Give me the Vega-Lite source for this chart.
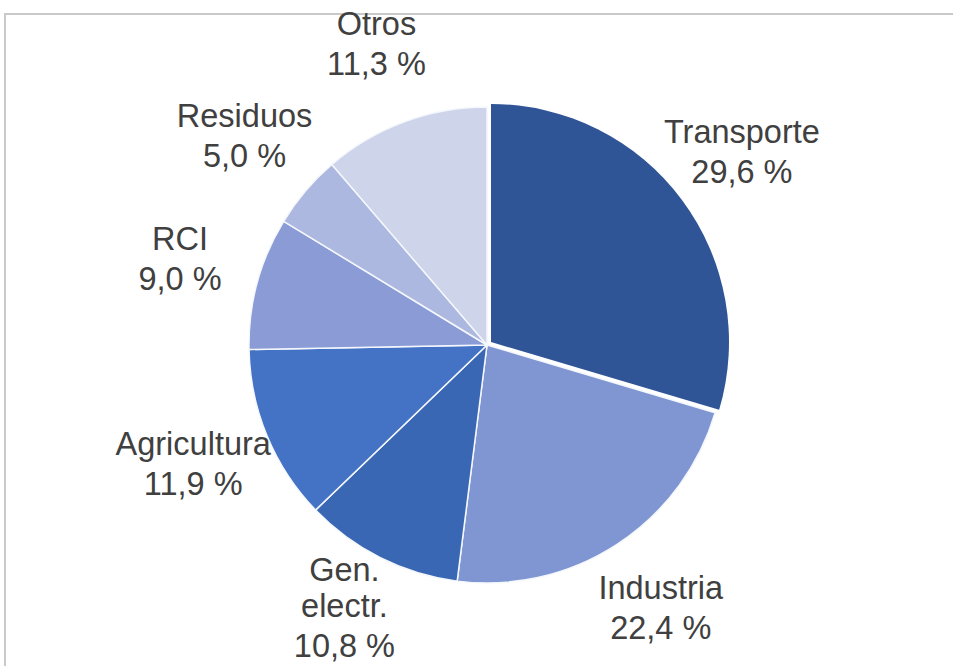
{
  "$schema": "https://vega.github.io/schema/vega-lite/v6.json",
  "autosize": "none",
  "width": 964,
  "height": 662,
  "padding": {"top": 14, "left": 5, "right": 0, "bottom": 0},
  "background": "white",
  "data": {
    "values": [
      {"orden": 1, "sector": "Transporte", "valor": 29.6},
      {"orden": 2, "sector": "Industria", "valor": 22.4},
      {"orden": 3, "sector": "Gen. electr.", "valor": 10.8},
      {"orden": 4, "sector": "Agricultura", "valor": 11.9},
      {"orden": 5, "sector": "RCI", "valor": 9.0},
      {"orden": 6, "sector": "Residuos", "valor": 5.0},
      {"orden": 7, "sector": "Otros", "valor": 11.3}
    ]
  },
  "transform": [
    {"calculate": "peek(split(datum.sector, ' '))", "as": "ultima"},
    {"calculate": "join(slice(split(datum.sector, ' '), 0, -1), ' ')", "as": "previa"},
    {"calculate": "replace(format(datum.valor, '.1f'), '.', ',') + ' %'", "as": "porcentaje"}
  ],
  "layer": [
    {
      "mark": {"type": "rect", "fill": null, "stroke": "#C9C9C9", "strokeWidth": 1.5},
      "encoding": {}
    },
    {
      "mark": {"type": "arc", "outerRadius": 238, "stroke": "#F4F7FC", "strokeWidth": 1.5},
      "encoding": {
        "theta": {"field": "valor", "type": "quantitative", "stack": true},
        "order": {"field": "orden", "type": "ordinal"},
        "color": {
          "field": "sector",
          "type": "nominal",
          "legend": null,
          "scale": {
            "domain": ["Transporte", "Industria", "Gen. electr.", "Agricultura", "RCI", "Residuos", "Otros"],
            "range": ["#2F5597", "#7F96D3", "#3A67B3", "#4472C4", "#8A9BD6", "#ACB8E0", "#CED4EA"]
          }
        },
        "opacity": {"condition": {"test": "datum.sector === 'Transporte'", "value": 0}, "value": 1}
      }
    },
    {
      "mark": {"type": "arc", "outerRadius": 238, "xOffset": 4, "yOffset": -3},
      "encoding": {
        "theta": {"field": "valor", "type": "quantitative", "stack": true},
        "order": {"field": "orden", "type": "ordinal"},
        "color": {"field": "sector", "type": "nominal", "legend": null},
        "opacity": {"condition": {"test": "datum.sector === 'Transporte'", "value": 1}, "value": 0}
      }
    },
    {
      "mark": {
        "type": "text",
        "radius": 318,
        "font": "Liberation Sans",
        "fontSize": 32.5,
        "color": "#404040",
        "align": "center",
        "baseline": "bottom",
        "dy": -41
      },
      "encoding": {
        "theta": {"field": "valor", "type": "quantitative", "stack": true},
        "order": {"field": "orden", "type": "ordinal"},
        "text": {"field": "previa", "type": "nominal"}
      }
    },
    {
      "mark": {
        "type": "text",
        "radius": 318,
        "font": "Liberation Sans",
        "fontSize": 32.5,
        "color": "#404040",
        "align": "center",
        "baseline": "bottom",
        "dy": -5
      },
      "encoding": {
        "theta": {"field": "valor", "type": "quantitative", "stack": true},
        "order": {"field": "orden", "type": "ordinal"},
        "text": {"field": "ultima", "type": "nominal"}
      }
    },
    {
      "mark": {
        "type": "text",
        "radius": 318,
        "font": "Liberation Sans",
        "fontSize": 32.5,
        "color": "#404040",
        "align": "center",
        "baseline": "top",
        "dy": 2
      },
      "encoding": {
        "theta": {"field": "valor", "type": "quantitative", "stack": true},
        "order": {"field": "orden", "type": "ordinal"},
        "text": {"field": "porcentaje", "type": "nominal"}
      }
    }
  ]
}
